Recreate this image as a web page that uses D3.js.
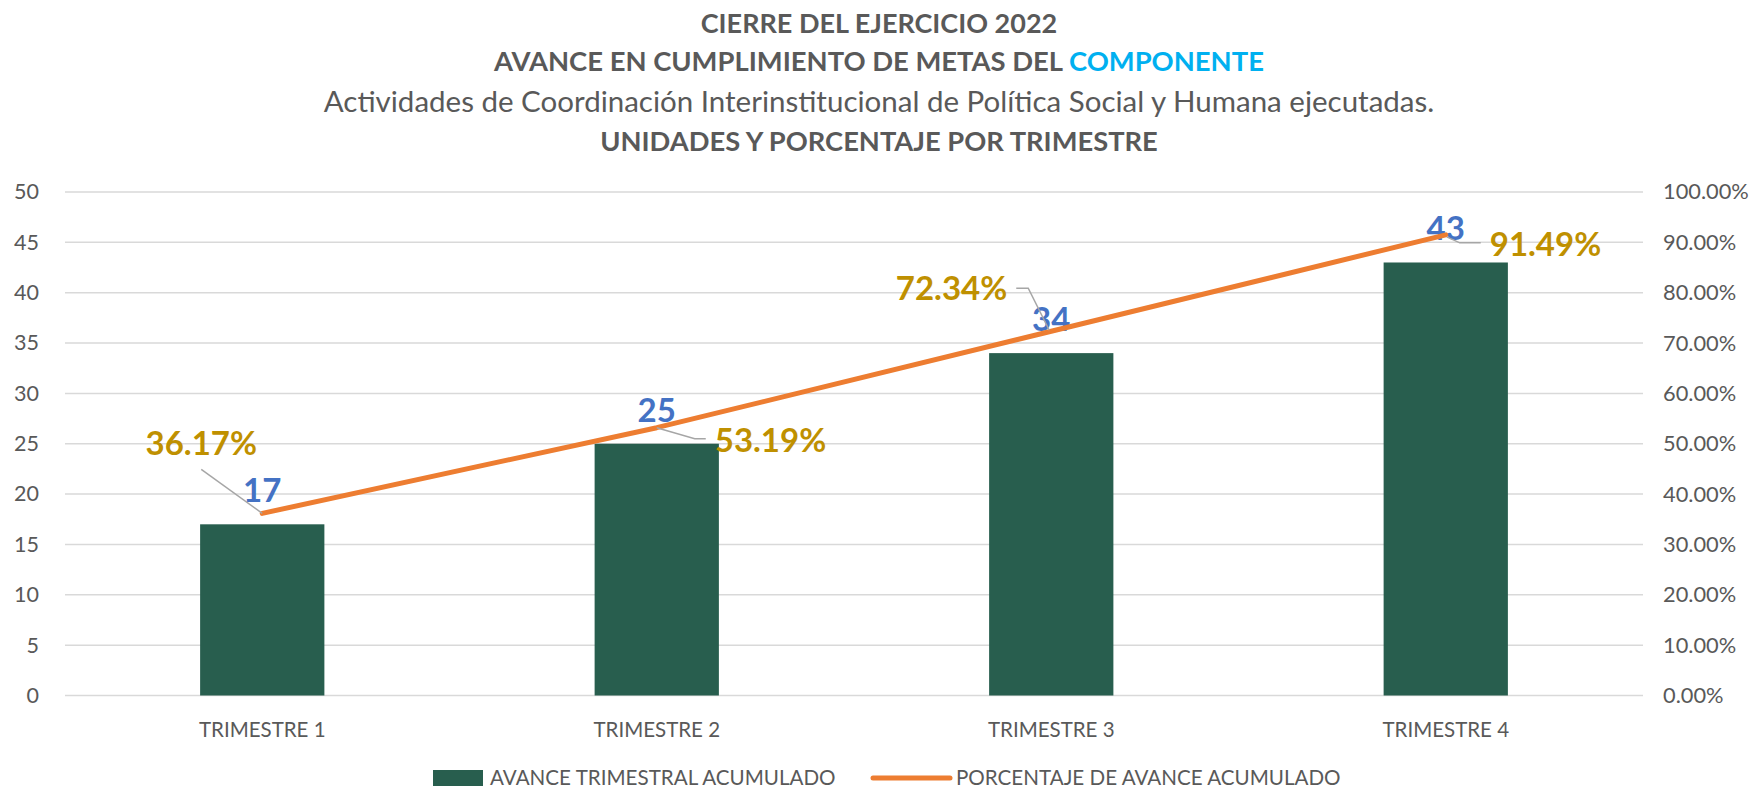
<!DOCTYPE html>
<html>
<head>
<meta charset="utf-8">
<script src="https://cdn.jsdelivr.net/npm/d3@7"></script>
<style>
  html, body { margin: 0; padding: 0; background: #fff; }
  svg { display: block; font-family: Lato, "Noto Sans", sans-serif; }
</style>
</head>
<body>
<div id="chart"></div>
<script>
// chart data
const categories = ['TRIMESTRE 1', 'TRIMESTRE 2', 'TRIMESTRE 3', 'TRIMESTRE 4'];
const avanceTrimestral = [17, 25, 34, 43];
const porcentajeAvance = [0.3617, 0.5319, 0.7234, 0.9149];
const leftTicks = [0, 5, 10, 15, 20, 25, 30, 35, 40, 45, 50];
const rightTicks = [0, 0.1, 0.2, 0.3, 0.4, 0.5, 0.6, 0.7, 0.8, 0.9, 1.0];
const seriesNames = ['AVANCE TRIMESTRAL ACUMULADO', 'PORCENTAJE DE AVANCE ACUMULADO'];

// placement of the percentage labels relative to their point (dragged labels in the original)
const pctLabelLayout = [
  { dx: -61, dy: -58, anchor: 'middle', leader: [[-61, -44], [0, 0]] },
  { dx: 58, dy: 24, anchor: 'start', leader: [[0, 0], [38, 11], [49, 11]] },
  { dx: -44, dy: -31, anchor: 'end', leader: [[-35, -43], [-23, -43], [-2, -1]] },
  { dx: 44, dy: 21, anchor: 'start', leader: [[1, 2], [14, 8], [35, 8]] }
];

const W = 1753, H = 789;
const margin = { top: 192, right: 110, bottom: 93.5, left: 65 };
const innerW = W - margin.left - margin.right;
const innerH = H - margin.top - margin.bottom;

const textGrey = '#595959';
const barColor = '#285E4E';
const lineColor = '#ED7D31';

const svg = d3.select('#chart').append('svg')
  .attr('width', W)
  .attr('height', H);

// titles
const titles = svg.append('g').attr('fill', textGrey).attr('text-anchor', 'middle');
titles.append('text')
  .attr('x', 879).attr('y', 33)
  .attr('font-size', 27).attr('font-weight', 700)
  .text('CIERRE DEL EJERCICIO 2022');
const t2 = titles.append('text')
  .attr('x', 879).attr('y', 71)
  .attr('font-size', 27.4).attr('font-weight', 700);
t2.append('tspan').text('AVANCE EN CUMPLIMIENTO DE METAS DEL ');
t2.append('tspan').attr('fill', '#00B0F0').text('COMPONENTE');
titles.append('text')
  .attr('x', 879).attr('y', 112)
  .attr('font-size', 29.5)
  .text('Actividades de Coordinación Interinstitucional de Política Social y Humana ejecutadas.');
titles.append('text')
  .attr('x', 879).attr('y', 151)
  .attr('font-size', 27.3).attr('font-weight', 700)
  .text('UNIDADES Y PORCENTAJE POR TRIMESTRE');

const g = svg.append('g').attr('transform', `translate(${margin.left},${margin.top})`);

const x = d3.scaleBand().domain(categories).range([0, innerW]).padding(0);
const yL = d3.scaleLinear().domain([0, 50]).range([innerH, 0]);
const yR = d3.scaleLinear().domain([0, 1]).range([innerH, 0]);

// gridlines
g.append('g')
  .selectAll('line')
  .data(leftTicks)
  .enter().append('line')
  .attr('x1', 0).attr('x2', innerW)
  .attr('y1', d => yL(d)).attr('y2', d => yL(d))
  .attr('stroke', '#D9D9D9').attr('stroke-width', 1.5);

// left axis
const axisL = g.append('g')
  .call(d3.axisLeft(yL).tickValues(leftTicks).tickSize(0).tickPadding(26));
axisL.select('.domain').remove();
axisL.selectAll('text').attr('fill', textGrey).attr('font-size', 21.5).attr('font-family', 'Lato, sans-serif');

// right axis
const axisR = g.append('g')
  .attr('transform', `translate(${innerW},0)`)
  .call(d3.axisRight(yR).tickValues(rightTicks).tickSize(0).tickPadding(20).tickFormat(d3.format('.2%')));
axisR.select('.domain').remove();
axisR.selectAll('text').attr('fill', textGrey).attr('font-size', 21.8).attr('font-family', 'Lato, sans-serif');

// bottom axis
const axisB = g.append('g')
  .attr('transform', `translate(0,${innerH})`)
  .call(d3.axisBottom(x).tickSize(0).tickPadding(27));
axisB.select('.domain').remove();
axisB.selectAll('text').attr('fill', textGrey).attr('font-size', 20.5).attr('font-family', 'Lato, sans-serif');

// bars
const barW = x.bandwidth() * 0.315;
g.selectAll('.bar')
  .data(avanceTrimestral)
  .enter().append('rect')
  .attr('class', 'bar')
  .attr('x', (d, i) => x(categories[i]) + (x.bandwidth() - barW) / 2)
  .attr('width', barW)
  .attr('y', d => yL(d))
  .attr('height', d => innerH - yL(d))
  .attr('fill', barColor);

// bar value labels
g.selectAll('.bar-label')
  .data(avanceTrimestral)
  .enter().append('text')
  .attr('class', 'bar-label')
  .attr('x', (d, i) => x(categories[i]) + x.bandwidth() / 2)
  .attr('y', d => yL(d) - 22)
  .attr('text-anchor', 'middle')
  .attr('font-size', 33).attr('font-weight', 700)
  .attr('fill', '#4472C4')
  .text(d => d);

// percentage line
const pts = porcentajeAvance.map((v, i) => [x(categories[i]) + x.bandwidth() / 2, yR(v)]);
g.append('path')
  .datum(pts)
  .attr('fill', 'none')
  .attr('stroke', lineColor)
  .attr('stroke-width', 5)
  .attr('stroke-linecap', 'round')
  .attr('stroke-linejoin', 'round')
  .attr('d', d3.line());

// leader lines
g.selectAll('.leader')
  .data(pts)
  .enter().append('path')
  .attr('class', 'leader')
  .attr('fill', 'none')
  .attr('stroke', '#A6A6A6')
  .attr('stroke-width', 1.5)
  .attr('d', (p, i) => d3.line()(pctLabelLayout[i].leader.map(o => [p[0] + o[0], p[1] + o[1]])));

// percentage labels
g.selectAll('.pct-label')
  .data(pts)
  .enter().append('text')
  .attr('class', 'pct-label')
  .attr('x', (p, i) => p[0] + pctLabelLayout[i].dx)
  .attr('y', (p, i) => p[1] + pctLabelLayout[i].dy)
  .attr('text-anchor', (p, i) => pctLabelLayout[i].anchor)
  .attr('font-size', 33).attr('font-weight', 700)
  .attr('fill', '#BF9000')
  .text((p, i) => d3.format('.2%')(porcentajeAvance[i]));

// legend
const legend = svg.append('g').attr('fill', textGrey).attr('font-size', 20.6);
legend.append('rect')
  .attr('x', 433).attr('y', 770).attr('width', 50).attr('height', 16)
  .attr('fill', barColor);
legend.append('text').attr('x', 490).attr('y', 785).text(seriesNames[0]);
legend.append('line')
  .attr('x1', 873).attr('x2', 950).attr('y1', 778).attr('y2', 778)
  .attr('stroke', lineColor).attr('stroke-width', 5).attr('stroke-linecap', 'round');
legend.append('text').attr('x', 956).attr('y', 785).text(seriesNames[1]);
</script>
</body>
</html>
